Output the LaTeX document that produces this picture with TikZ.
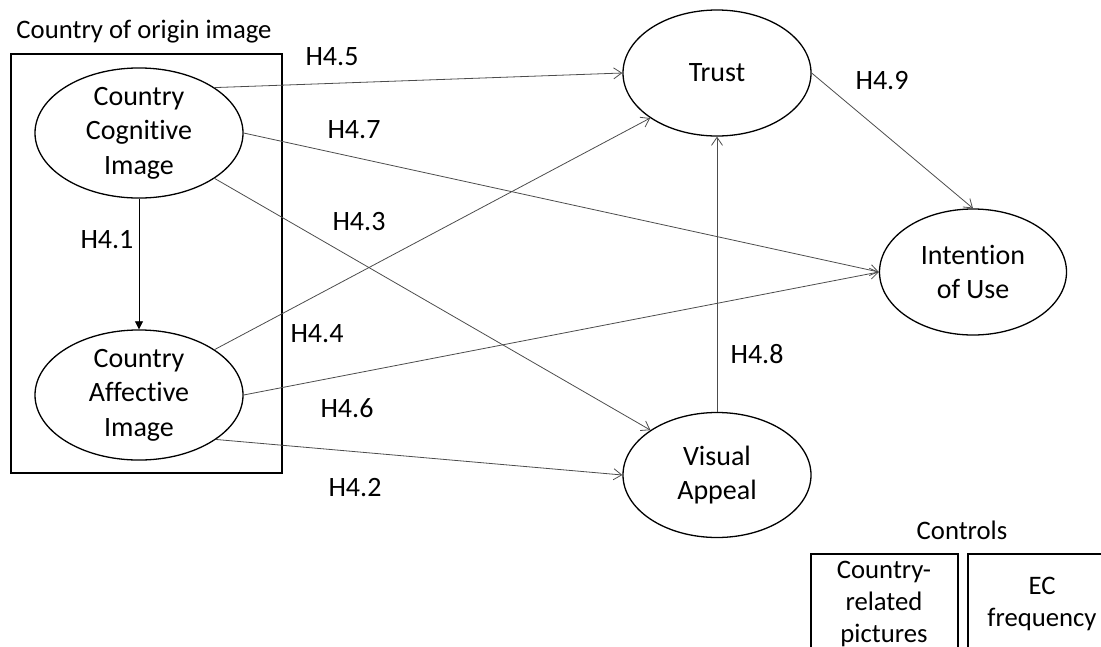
\documentclass[tikz,border=0pt]{standalone}
\usepackage{fontspec}
\setmainfont{Carlito}[Ligatures=NoCommon]
\usetikzlibrary{shapes.geometric,arrows.meta}
\begin{document}
\begin{tikzpicture}[x=1pt,y=-1pt,
  construct/.style={ellipse,draw=black,line width=1.3pt,inner sep=0pt,align=center,
    font=\fontsize{28}{34.5}\selectfont},
  hyp/.style={font=\fontsize{28}{34}\selectfont,inner sep=0pt},
  caption/.style={font=\fontsize{26.7}{32}\selectfont,inner sep=0pt},
  path/.style={draw=black!70,line width=0.8pt,-{Straight Barb[length=8pt,width=11pt]}},
  framebox/.style={rectangle,draw=black,line width=1.3pt,inner sep=0pt},
  ctrltext/.style={align=center,inner sep=0pt,font=\fontsize{26.7}{32}\selectfont}]
\useasboundingbox (0,0) rectangle (1101,646);
\clip (0,0) rectangle (1101,646);

% country of origin image group
\node[caption] (cootitle) at (144,32) {Country of origin image};
\node[framebox,minimum width=271pt,minimum height=419pt] (coo) at (146.5,263.5) {};

% constructs
\node[construct,minimum width=208pt,minimum height=124pt] (cci) at (139,133) {Country\\Cognitive\\Image};
\node[construct,minimum width=208pt,minimum height=125pt] (cai) at (139,395) {Country\\Affective\\Image};
\node[construct,minimum width=188pt,minimum height=126pt] (trust) at (717,73) {Trust};
\node[construct,minimum width=187pt,minimum height=126pt] (iou) at (973,272) {Intention\\of Use};
\node[construct,minimum width=188pt,minimum height=125pt] (va) at (717,475) {Visual\\Appeal};

% hypothesised paths
\draw[draw=black,line width=0.8pt,-{Triangle[length=8pt,width=8pt]}] (cci.south) -- (cai.north);
\draw[path] (cci.31) -- (trust.west);
\draw[path] (cci.east) -- (iou.west);
\draw[path] (cci.-31) -- (va.146);
\draw[path] (cai.31) -- (trust.214);
\draw[path] (cai.east) -- (iou.west);
\draw[path] (cai.-30) -- (va.west);
\draw[path] (va.north) -- (trust.south);
\draw[path] (trust.east) -- (iou.north);

% path labels
\node[hyp] (h41) at (107,240) {H4.1};
\node[hyp] (h42) at (355,488) {H4.2};
\node[hyp] (h43) at (359,222) {H4.3};
\node[hyp] (h44) at (317,334) {H4.4};
\node[hyp] (h45) at (332,57) {H4.5};
\node[hyp] (h46) at (347,408) {H4.6};
\node[hyp] (h47) at (354,130) {H4.7};
\node[hyp] (h48) at (757,354) {H4.8};
\node[hyp] (h49) at (882,81) {H4.9};

% control variables
\node[caption] (ctrl) at (962,530) {Controls};
\node[framebox,minimum width=147pt,minimum height=160pt] (c1box) at (884.5,634) {};
\node[framebox,minimum width=147pt,minimum height=160pt] (c2box) at (1041.5,634) {};
\node[ctrltext,anchor=north] (c1) at (884,561) {Country-\\related\\pictures};
\node[ctrltext,anchor=north] (c2) at (1042,577) {EC\\frequency};
\end{tikzpicture}
\end{document}
